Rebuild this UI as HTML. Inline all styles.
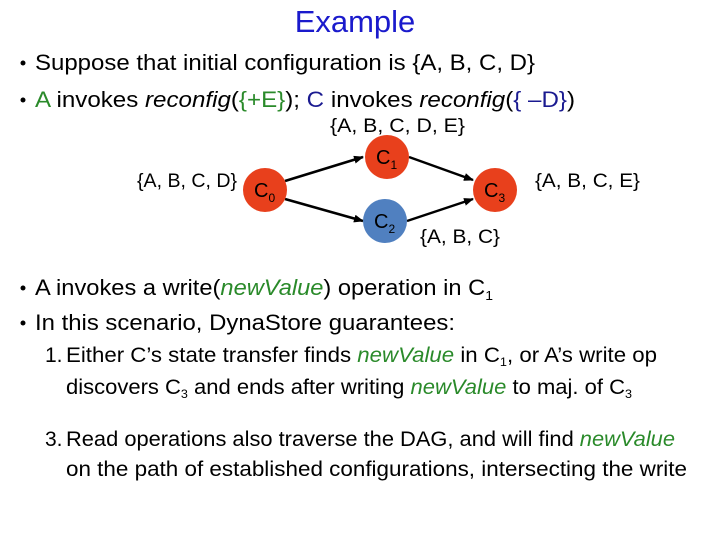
<!DOCTYPE html>
<html><head><meta charset="utf-8"><style>
html,body{margin:0;padding:0;background:#fff;}
svg{display:block;font-family:"Liberation Sans",sans-serif;}
</style></head><body>
<svg width="720" height="540" viewBox="0 0 720 540" xmlns="http://www.w3.org/2000/svg">
<defs><marker id="ar" markerWidth="10" markerHeight="8" refX="9" refY="4" orient="auto" markerUnits="userSpaceOnUse"><path d="M0,0 L10,4 L0,8 z" fill="#000"/></marker></defs>
<text x="355" y="32" font-size="31" fill="#1a1acc" text-anchor="middle">Example</text>
<g font-size="22" fill="#000">
<circle cx="23" cy="63" r="2.5"/>
<text x="35" y="70" textLength="500" lengthAdjust="spacingAndGlyphs">Suppose that initial configuration is {A, B, C, D}</text>
<circle cx="23" cy="100" r="2.5"/>
<text x="35" y="107" textLength="540" lengthAdjust="spacingAndGlyphs"><tspan fill="#2a8a2a">A</tspan> invokes <tspan font-style="italic">reconfig</tspan>(<tspan fill="#2a8a2a">{+E}</tspan>); <tspan fill="#1a1a90">C</tspan> invokes <tspan font-style="italic">reconfig</tspan>(<tspan fill="#1a1a90">{ –D}</tspan>)</text>
</g>
<g font-size="19">
<text x="330" y="132" textLength="135" lengthAdjust="spacingAndGlyphs">{A, B, C, D, E}</text>
<text x="137" y="187" textLength="100" lengthAdjust="spacingAndGlyphs">{A, B, C, D}</text>
<text x="535" y="187" textLength="105" lengthAdjust="spacingAndGlyphs">{A, B, C, E}</text>
<text x="420" y="243" textLength="80" lengthAdjust="spacingAndGlyphs">{A, B, C}</text>
</g>
<g stroke="#000" stroke-width="2.5">
<line x1="285" y1="181" x2="363" y2="157" marker-end="url(#ar)"/>
<line x1="285" y1="199" x2="363" y2="221" marker-end="url(#ar)"/>
<line x1="409" y1="157" x2="473" y2="180" marker-end="url(#ar)"/>
<line x1="407" y1="221" x2="473" y2="199" marker-end="url(#ar)"/>
</g>
<circle cx="265" cy="190" r="22" fill="#e8401c"/>
<circle cx="387" cy="157" r="22" fill="#e8401c"/>
<circle cx="385" cy="221" r="22" fill="#5080c0"/>
<circle cx="495" cy="190" r="22" fill="#e8401c"/>
<g font-size="20" fill="#000">
<text x="254" y="197">C<tspan font-size="12" dy="5">0</tspan></text>
<text x="376" y="164">C<tspan font-size="12" dy="5">1</tspan></text>
<text x="374" y="228">C<tspan font-size="12" dy="5">2</tspan></text>
<text x="484" y="197">C<tspan font-size="12" dy="5">3</tspan></text>
</g>
<g font-size="22" fill="#000">
<circle cx="23" cy="288" r="2.5"/>
<text x="35" y="295" textLength="458" lengthAdjust="spacingAndGlyphs">A invokes a write(<tspan fill="#2a8a2a" font-style="italic">newValue</tspan>) operation in C<tspan font-size="13" dy="5">1</tspan></text>
<circle cx="23" cy="323" r="2.5"/>
<text x="35" y="330" textLength="420" lengthAdjust="spacingAndGlyphs">In this scenario, DynaStore guarantees:</text>
</g>
<g font-size="21" fill="#000">
<text x="45" y="362">1.</text>
<text x="66" y="362" textLength="591" lengthAdjust="spacingAndGlyphs">Either C’s state transfer finds <tspan fill="#2a8a2a" font-style="italic">newValue</tspan> in C<tspan font-size="12" dy="4">1</tspan><tspan dy="-4">, or A’s write op</tspan></text>
<text x="66" y="394" textLength="566" lengthAdjust="spacingAndGlyphs">discovers C<tspan font-size="12" dy="4">3</tspan><tspan dy="-4"> and ends after writing </tspan><tspan fill="#2a8a2a" font-style="italic">newValue</tspan> to maj. of C<tspan font-size="12" dy="4">3</tspan></text>
<text x="45" y="446">3.</text>
<text x="66" y="446" textLength="609" lengthAdjust="spacingAndGlyphs">Read operations also traverse the DAG, and will find <tspan fill="#2a8a2a" font-style="italic">newValue</tspan></text>
<text x="66" y="476" textLength="621" lengthAdjust="spacingAndGlyphs">on the path of established configurations, intersecting the write</text>
</g>
</svg>
</body></html>
